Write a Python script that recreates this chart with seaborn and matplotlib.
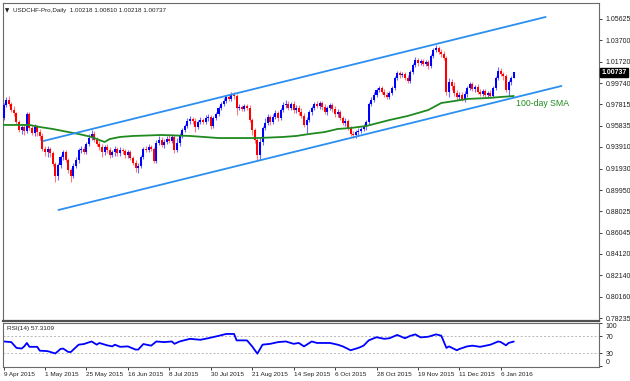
import matplotlib
matplotlib.use('Agg')
import matplotlib.pyplot as plt
import seaborn as sns
import numpy as np
import pandas as pd
from matplotlib.transforms import blended_transform_factory

sns.set_theme(style='white')
plt.rcParams['font.family'] = ['Liberation Sans', 'DejaVu Sans']

# ---------------- data ----------------
date_label_bars = [0, 16, 32, 48, 64, 80, 96, 112, 128, 144, 160, 176, 192]
date_labels = ['9 Apr 2015', '1 May 2015', '25 May 2015', '16 Jun 2015', '8 Jul 2015',
               '30 Jul 2015', '21 Aug 2015', '14 Sep 2015', '6 Oct 2015', '28 Oct 2015',
               '19 Nov 2015', '11 Dec 2015', '6 Jan 2016']

first_open = 0.9656
close = [
    0.9775, 0.9821, 0.9784, 0.9729, 0.9701, 0.9619, 0.9546, 0.9573, 0.9537, 0.9692,
    0.9564, 0.9518, 0.9573, 0.9527, 0.9491, 0.9372, 0.9344, 0.9372, 0.9335, 0.9234,
    0.9124, 0.9225, 0.9298, 0.9344, 0.9271, 0.9179, 0.9124, 0.9216, 0.9271, 0.9363,
    0.9372, 0.9344, 0.9417, 0.9472, 0.9509, 0.9454, 0.9417, 0.9390, 0.9344, 0.9390,
    0.9363, 0.9317, 0.9344, 0.9372, 0.9335, 0.9363, 0.9353, 0.9317, 0.9344, 0.9289,
    0.9243, 0.9198, 0.9216, 0.9298, 0.9372, 0.9363, 0.9390, 0.9372, 0.9262, 0.9427,
    0.9454, 0.9408, 0.9436, 0.9463, 0.9445, 0.9482, 0.9363, 0.9427, 0.9491, 0.9546,
    0.9582, 0.9628, 0.9646, 0.9628, 0.9573, 0.9619, 0.9637, 0.9619, 0.9656, 0.9665,
    0.9582, 0.9656, 0.9692, 0.9747, 0.9784, 0.9811, 0.9848, 0.9830, 0.9866, 0.9857,
    0.9747, 0.9756, 0.9738, 0.9766, 0.9747, 0.9637, 0.9546, 0.9454, 0.9317, 0.9436,
    0.9564, 0.9610, 0.9665, 0.9619, 0.9665, 0.9701, 0.9656, 0.9729, 0.9775, 0.9784,
    0.9747, 0.9784, 0.9729, 0.9747, 0.9711, 0.9674, 0.9592, 0.9637, 0.9711, 0.9747,
    0.9784, 0.9766, 0.9793, 0.9756, 0.9711, 0.9747, 0.9775, 0.9738, 0.9692, 0.9711,
    0.9656, 0.9610, 0.9628, 0.9564, 0.9509, 0.9500, 0.9527, 0.9537, 0.9555, 0.9573,
    0.9619, 0.9784, 0.9821, 0.9866, 0.9912, 0.9930, 0.9894, 0.9866, 0.9848, 0.9885,
    0.9930, 1.0022, 1.0068, 1.0050, 1.0059, 1.0022, 0.9995, 1.0077, 1.0141, 1.0187,
    1.0159, 1.0178, 1.0150, 1.0169, 1.0132, 1.0224, 1.0279, 1.0297, 1.0260, 1.0242,
    1.0205, 0.9894, 0.9985, 0.9949, 0.9885, 0.9848, 0.9866, 0.9830, 0.9875, 0.9930,
    0.9967, 0.9921, 0.9940, 0.9894, 0.9875, 0.9903, 0.9866, 0.9885, 0.9857, 0.9930,
    1.0022, 1.0086, 1.0059, 1.0040, 0.9912, 0.9985, 1.00218, 1.00737]
high = [
    0.9793, 0.9848, 0.9857, 0.9802, 0.9766, 0.9711, 0.9637, 0.9601, 0.9592, 0.9711,
    0.9711, 0.9592, 0.9601, 0.9592, 0.9555, 0.9518, 0.9399, 0.9399, 0.9390, 0.9353,
    0.9253, 0.9243, 0.9317, 0.9363, 0.9363, 0.9289, 0.9198, 0.9243, 0.9298, 0.9381,
    0.9399, 0.9399, 0.9436, 0.9509, 0.9546, 0.9537, 0.9482, 0.9445, 0.9417, 0.9408,
    0.9417, 0.9390, 0.9363, 0.9399, 0.9390, 0.9390, 0.9381, 0.9372, 0.9363, 0.9363,
    0.9308, 0.9271, 0.9243, 0.9317, 0.9390, 0.9399, 0.9417, 0.9408, 0.9390, 0.9454,
    0.9491, 0.9482, 0.9463, 0.9491, 0.9509, 0.9509, 0.9500, 0.9472, 0.9518, 0.9564,
    0.9601, 0.9656, 0.9674, 0.9665, 0.9656, 0.9637, 0.9665, 0.9656, 0.9683, 0.9692,
    0.9683, 0.9674, 0.9711, 0.9766, 0.9802, 0.9839, 0.9866, 0.9875, 0.9894, 0.9894,
    0.9875, 0.9784, 0.9775, 0.9784, 0.9784, 0.9775, 0.9656, 0.9564, 0.9472, 0.9472,
    0.9582, 0.9656, 0.9692, 0.9683, 0.9692, 0.9729, 0.9720, 0.9747, 0.9802, 0.9821,
    0.9811, 0.9802, 0.9811, 0.9775, 0.9775, 0.9747, 0.9701, 0.9665, 0.9729, 0.9766,
    0.9802, 0.9811, 0.9811, 0.9811, 0.9784, 0.9766, 0.9793, 0.9793, 0.9766, 0.9738,
    0.9729, 0.9674, 0.9656, 0.9646, 0.9582, 0.9537, 0.9546, 0.9564, 0.9573, 0.9601,
    0.9637, 0.9802, 0.9848, 0.9894, 0.9930, 0.9949, 0.9949, 0.9921, 0.9894, 0.9903,
    0.9949, 1.0040, 1.0086, 1.0086, 1.0077, 1.0077, 1.0050, 1.0095, 1.0159, 1.0214,
    1.0205, 1.0196, 1.0196, 1.0187, 1.0187, 1.0242, 1.0297, 1.0324, 1.0315, 1.0288,
    1.0269, 1.0224, 1.0022, 1.0013, 0.9985, 0.9912, 0.9894, 0.9894, 0.9903, 0.9949,
    0.9985, 0.9985, 0.9958, 0.9967, 0.9921, 0.9921, 0.9921, 0.9903, 0.9912, 0.9949,
    1.0040, 1.0123, 1.0114, 1.0077, 1.0059, 1.0004, 1.0040, 1.00810]
low = [
    0.9637, 0.9756, 0.9766, 0.9711, 0.9674, 0.9601, 0.9527, 0.9509, 0.9500, 0.9518,
    0.9546, 0.9500, 0.9491, 0.9491, 0.9454, 0.9353, 0.9308, 0.9298, 0.9298, 0.9216,
    0.9069, 0.9088, 0.9198, 0.9271, 0.9253, 0.9152, 0.9069, 0.9106, 0.9198, 0.9243,
    0.9335, 0.9326, 0.9326, 0.9399, 0.9454, 0.9436, 0.9399, 0.9363, 0.9298, 0.9317,
    0.9335, 0.9289, 0.9298, 0.9308, 0.9308, 0.9308, 0.9326, 0.9289, 0.9289, 0.9271,
    0.9225, 0.9161, 0.9152, 0.9198, 0.9280, 0.9344, 0.9344, 0.9353, 0.9243, 0.9243,
    0.9408, 0.9390, 0.9381, 0.9417, 0.9427, 0.9427, 0.9335, 0.9344, 0.9399, 0.9472,
    0.9527, 0.9564, 0.9601, 0.9601, 0.9527, 0.9555, 0.9601, 0.9601, 0.9601, 0.9628,
    0.9555, 0.9564, 0.9637, 0.9674, 0.9729, 0.9766, 0.9793, 0.9811, 0.9811, 0.9830,
    0.9683, 0.9729, 0.9720, 0.9720, 0.9729, 0.9619, 0.9500, 0.9427, 0.9262, 0.9271,
    0.9408, 0.9546, 0.9592, 0.9592, 0.9601, 0.9646, 0.9628, 0.9637, 0.9711, 0.9747,
    0.9729, 0.9729, 0.9701, 0.9701, 0.9683, 0.9656, 0.9573, 0.9518, 0.9619, 0.9683,
    0.9729, 0.9747, 0.9738, 0.9729, 0.9692, 0.9683, 0.9729, 0.9711, 0.9665, 0.9665,
    0.9637, 0.9592, 0.9582, 0.9546, 0.9491, 0.9472, 0.9472, 0.9500, 0.9518, 0.9537,
    0.9546, 0.9592, 0.9766, 0.9802, 0.9848, 0.9894, 0.9875, 0.9848, 0.9830, 0.9830,
    0.9866, 0.9912, 1.0004, 1.0022, 1.0031, 1.0004, 0.9976, 0.9976, 1.0059, 1.0123,
    1.0132, 1.0141, 1.0132, 1.0132, 1.0104, 1.0114, 1.0205, 1.0260, 1.0242, 1.0214,
    1.0187, 0.9866, 0.9848, 0.9912, 0.9857, 0.9821, 0.9821, 0.9811, 0.9802, 0.9848,
    0.9912, 0.9903, 0.9894, 0.9875, 0.9857, 0.9857, 0.9848, 0.9848, 0.9839, 0.9839,
    0.9912, 1.0004, 1.0040, 1.0004, 0.9894, 0.9857, 0.9958, 1.00218]

sma_bars = [0, 10, 14, 19, 25, 29, 34, 37, 39, 41, 45, 50, 61, 72, 83, 98, 108, 113,
            118, 124, 129, 134, 140, 149, 156, 164, 169, 174, 179, 187, 192, 197]
sma_vals = [0.9592, 0.9592, 0.9573, 0.9555, 0.9527, 0.9509, 0.9482, 0.9454, 0.9436,
            0.9463, 0.9482, 0.9491, 0.9500, 0.9491, 0.9472, 0.9472, 0.9482, 0.9491,
            0.9509, 0.9527, 0.9555, 0.9564, 0.9582, 0.9637, 0.9674, 0.9729, 0.9793,
            0.9811, 0.9830, 0.9839, 0.9848, 0.9857]

rsi_bars = [0, 3, 5, 7, 8, 9, 10, 13, 14, 17, 20, 22, 23, 25, 26, 29, 31, 34, 36, 37,
            40, 42, 43, 45, 48, 51, 52, 54, 57, 59, 62, 65, 66, 68, 72, 76, 79, 83, 86,
            89, 90, 94, 96, 98, 100, 103, 106, 109, 112, 114, 116, 119, 121, 122, 126,
            129, 131, 134, 137, 139, 141, 144, 147, 149, 152, 155, 157, 159, 161, 164,
            167, 169, 171, 172, 175, 176, 179, 181, 184, 188, 191, 192, 194, 195, 197]
rsi_vals = [57.5, 56, 42.5, 41, 46, 54, 45, 45, 36, 35, 29.5, 40, 41, 33, 33, 50, 51.5,
            57.5, 50, 54, 48.5, 46, 50, 45, 46, 38.6, 38.6, 51.5, 47.7, 57.5, 56, 57.5,
            52, 57.5, 63.6, 61.4, 65, 70.5, 75, 75, 60, 60, 46, 29, 50, 52, 56, 57.5,
            52, 54, 46, 57.5, 54, 54, 54, 50, 46, 37, 42.5, 47.7, 60, 67.4, 63.6, 65,
            72.7, 65, 70.5, 74, 67, 68.5, 74, 71, 42.5, 46, 37, 40, 46, 47.7, 45, 50,
            57.5, 56, 48.5, 54, 57.3109]

price_ticks = [1.05625, 1.03700, 1.01720, 0.99740, 0.97815, 0.95835, 0.93910, 0.91930,
               0.89950, 0.88025, 0.86045, 0.84120, 0.82140, 0.80160, 0.78235]
rsi_ticks = [100, 70, 30, 0]

upper_bars = [15.4, 209.3]
upper_vals = [0.9445, 1.0581]
lower_bars = [21.2, 215.4]
lower_vals = [0.8813, 0.9949]

last_price = 1.00737

# ---------------- figure ----------------
W, H = 630, 381
fig = plt.figure(figsize=(W / 100, H / 100), dpi=100)
fig.patch.set_facecolor('white')

def fx(px):
    return px / W

def fy(py):
    return 1 - py / H

ax = fig.add_axes([fx(3), fy(321), fx(599) - fx(3), fy(3) - fy(321)])
ax2 = fig.add_axes([fx(3), fy(367), fx(599) - fx(3), fy(323) - fy(367)])

df = pd.DataFrame({'bar': np.arange(len(close)), 'open': [first_open] + close[:-1],
                   'high': high, 'low': low, 'close': close})
up = df['close'] >= df['open']
body_col = np.where(up, '#0000FF', '#FF0000')
wick_col = np.where(up, '#6a6aff', '#ff7a7a')

ax.vlines(df['bar'], df['low'], df['high'], colors=wick_col, lw=0.8, zorder=2)
ax.bar(df['bar'], (df['close'] - df['open']).abs().clip(lower=0.0005),
       bottom=np.minimum(df['open'], df['close']), width=0.78, color=body_col,
       linewidth=0, zorder=3)

sns.lineplot(x=sma_bars, y=sma_vals, ax=ax, color='#1f8a1f', lw=1.3, zorder=4)
sns.lineplot(x=upper_bars, y=upper_vals, ax=ax, color='#2a8ff0', lw=1.3, zorder=4)
sns.lineplot(x=lower_bars, y=lower_vals, ax=ax, color='#2a8ff0', lw=1.3, zorder=4)

xlim = (-0.2, 229.9)
ax.set_xlim(*xlim)
ax.set_ylim(0.77961, 1.07090)
ax.set_xticks([])
ax.yaxis.tick_right()
ax.set_yticks(price_ticks)
ax.set_yticklabels([f'{v:.5f}' for v in price_ticks])
ax.tick_params(axis='y', right=True, left=False, length=2.5, width=0.6, pad=2,
               labelsize=5, colors='#202020')
for s in ['left', 'top', 'right']:
    ax.spines[s].set_color('#6a6a6a')
    ax.spines[s].set_linewidth(0.8)
ax.spines['bottom'].set_color('#505050')
ax.spines['bottom'].set_linewidth(1.6)

ax.text(0.004, 0.985, '\u25bc', transform=ax.transAxes, fontsize=4,
        family=['DejaVu Sans'], color='#202020', va='top', ha='left')
ax.text(0.016, 0.985, 'USDCHF-Pro,Daily  1.00218 1.00810 1.00218 1.00737',
        transform=ax.transAxes, fontsize=4.5, color='#202020', va='top', ha='left')

ax.text(197.7, 0.9784, '100-day SMA', color='#1f8a1f', fontsize=6.3,
        va='center', ha='left')

tr = blended_transform_factory(ax.transAxes, ax.transData)
ax.text(1.004, last_price, '1.00737', transform=tr, fontsize=5, color='white',
        va='center', ha='left', fontweight='bold',
        bbox=dict(boxstyle='square,pad=0.15', fc='black', ec='black'), zorder=10,
        clip_on=False)

# ---------------- RSI ----------------
for lvl in [70, 30]:
    ax2.axhline(lvl, color='#b8b8b8', lw=0.7, ls=(0, (2, 2)))
sns.lineplot(x=rsi_bars, y=rsi_vals, ax=ax2, color='#0000FF', lw=1.3)
ax2.set_xlim(*xlim)
ax2.set_ylim(-2, 100.5)
ax2.yaxis.tick_right()
ax2.set_yticks(rsi_ticks)
ax2.set_yticklabels([str(v) for v in rsi_ticks])
ax2.tick_params(axis='y', right=True, left=False, length=2.5, width=0.6, pad=2,
                labelsize=5, colors='#202020')
labs = ax2.get_yticklabels()
labs[0].set_va('top')
labs[-1].set_va('bottom')
ax2.set_xticks(date_label_bars)
ax2.set_xticklabels(date_labels, ha='left')
ax2.tick_params(axis='x', bottom=True, length=2, width=0.6, pad=1.5, labelsize=4.6,
                colors='#202020')
for s in ax2.spines.values():
    s.set_color('#6a6a6a')
    s.set_linewidth(0.8)
ax2.set_xlabel('')
ax2.set_ylabel('')
ax.set_xlabel('')
ax.set_ylabel('')
ax2.text(0.006, 0.93, 'RSI(14) 57.3109', transform=ax2.transAxes, fontsize=4.6,
         color='#202020', va='top', ha='left')

fig.savefig('out.png', dpi=100, facecolor='white')
